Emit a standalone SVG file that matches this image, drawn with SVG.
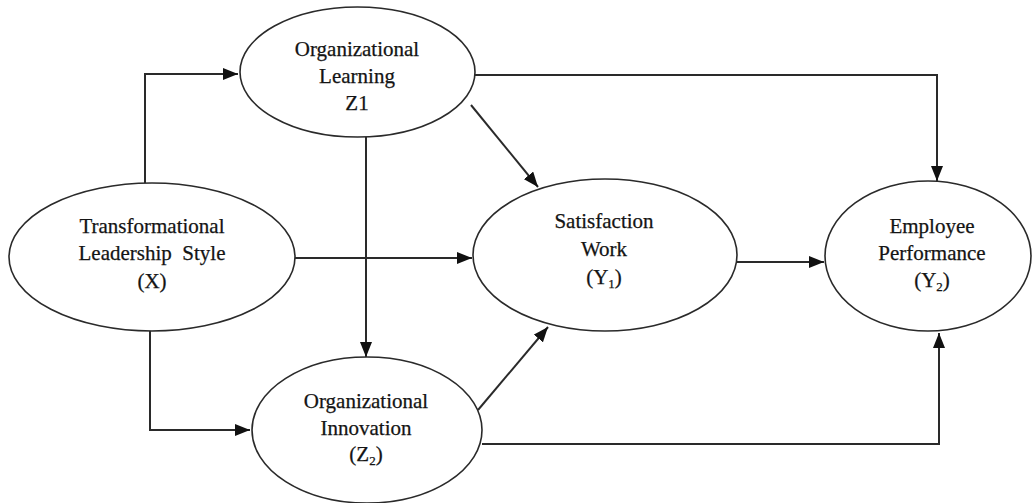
<svg xmlns="http://www.w3.org/2000/svg" width="1033" height="503" viewBox="0 0 1033 503">
  <style>
    .node ellipse { fill: #ffffff; stroke: #2a2a2a; stroke-width: 1.6; }
    .node text { font-family: 'Liberation Serif', 'DejaVu Serif', 'Times New Roman', Times, serif; font-size: 21px; fill: #141414; stroke: #141414; stroke-width: 0.25; text-anchor: middle; }
    .node tspan.sub { font-size: 13px; }
    #connectors path { fill: none; stroke: #2a2a2a; stroke-width: 2; }
  </style>
  <defs>
    <marker id="arrow" markerUnits="userSpaceOnUse" markerWidth="16" markerHeight="12" refX="15" refY="6" orient="auto">
      <path d="M0,0 L15,6 L0,12 Z" fill="#111111"/>
    </marker>
  </defs>
  <rect width="1033" height="503" fill="#ffffff"/>

  <!-- Connectors -->
  <g id="connectors">
    <!-- X to Z1 -->
    <path d="M145,183 V74 H238" marker-end="url(#arrow)"/>
    <!-- X to Z2 -->
    <path d="M150,331 V430 H250" marker-end="url(#arrow)"/>
    <!-- X to Y1 -->
    <path d="M295,258 H472" marker-end="url(#arrow)"/>
    <!-- Z1 to Z2 -->
    <path d="M366,137 V357" marker-end="url(#arrow)"/>
    <!-- Z1 to Y1 -->
    <path d="M471,105 L538,187" marker-end="url(#arrow)"/>
    <!-- Z1 to Y2 -->
    <path d="M475,75 H937 V181" marker-end="url(#arrow)"/>
    <!-- Y1 to Y2 -->
    <path d="M737,262 H824" marker-end="url(#arrow)"/>
    <!-- Z2 to Y1 -->
    <path d="M478,410 L548,327" marker-end="url(#arrow)"/>
    <!-- Z2 to Y2 -->
    <path d="M482,444 H939 V333" marker-end="url(#arrow)"/>
  </g>

  <!-- Transformational Leadership Style (X) -->
  <g id="node-x" class="node">
    <ellipse cx="152" cy="257" rx="143" ry="74"/>
    <text x="152" y="233">Transformational</text>
    <text x="152" y="260" xml:space="preserve">Leadership  Style</text>
    <text x="152" y="288">(X)</text>
  </g>

  <!-- Organizational Learning Z1 -->
  <g id="node-z1" class="node">
    <ellipse cx="357.5" cy="72" rx="117.5" ry="65"/>
    <text x="357" y="56">Organizational</text>
    <text x="357" y="83">Learning</text>
    <text x="357" y="110">Z1</text>
  </g>

  <!-- Organizational Innovation (Z2) -->
  <g id="node-z2" class="node">
    <ellipse cx="367" cy="430" rx="115" ry="73"/>
    <text x="366" y="408">Organizational</text>
    <text x="366" y="435">Innovation</text>
    <text x="366" y="461">(Z<tspan class="sub" dy="4">2</tspan><tspan dy="-4">)</tspan></text>
  </g>

  <!-- Satisfaction Work (Y1) -->
  <g id="node-y1" class="node">
    <ellipse cx="605" cy="255" rx="132" ry="76"/>
    <text x="604" y="228">Satisfaction</text>
    <text x="604" y="256">Work</text>
    <text x="604" y="284">(Y<tspan class="sub" dy="4">1</tspan><tspan dy="-4">)</tspan></text>
  </g>

  <!-- Employee Performance (Y2) -->
  <g id="node-y2" class="node">
    <ellipse cx="928" cy="256" rx="103" ry="75"/>
    <text x="932" y="233">Employee</text>
    <text x="932" y="260">Performance</text>
    <text x="932" y="287">(Y<tspan class="sub" dy="4">2</tspan><tspan dy="-4">)</tspan></text>
  </g>
</svg>
